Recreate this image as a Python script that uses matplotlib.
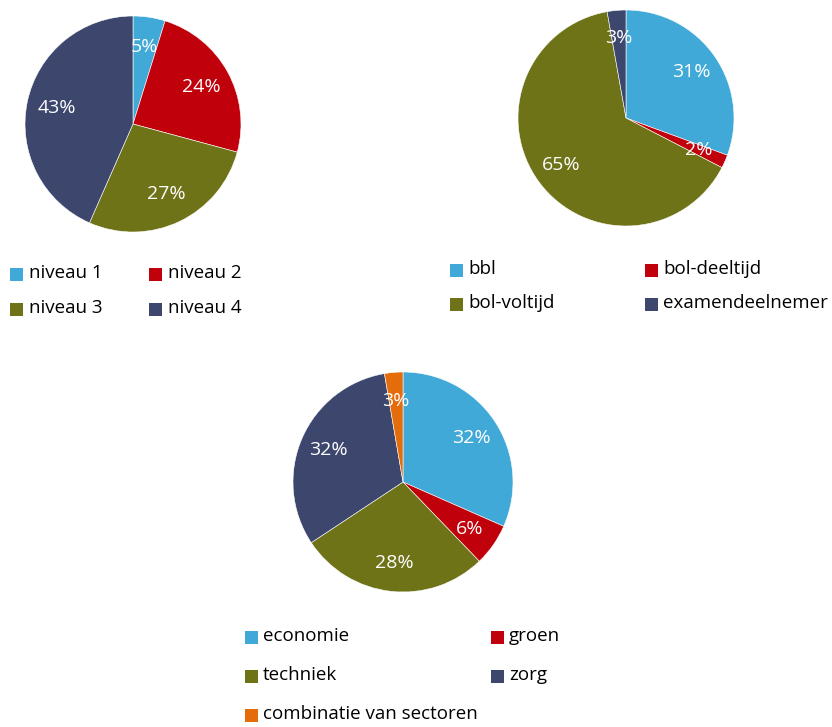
import matplotlib
matplotlib.use("Agg")
import matplotlib.pyplot as plt
from matplotlib.patches import Rectangle

W, H = 832, 727

# kleuren zoals in de bron
blauw = "#41A9D7"
rood = "#C0000B"
olijf = "#6E7318"
navy = "#3D476E"
oranje = "#E46C0A"

# grafiek 1: niveau
niveau_labels = ["niveau 1", "niveau 2", "niveau 3", "niveau 4"]
niveau_waarden = [4.8, 24.4, 27.4, 43.4]
niveau_kleuren = [blauw, rood, olijf, navy]

# grafiek 2: leerweg
leerweg_labels = ["bbl", "bol-deeltijd", "bol-voltijd", "examendeelnemer"]
leerweg_waarden = [30.6, 2.0, 64.6, 2.8]
leerweg_kleuren = [blauw, rood, olijf, navy]

# grafiek 3: sector
sector_labels = ["economie", "groen", "techniek", "zorg", "combinatie van sectoren"]
sector_waarden = [31.6, 6.2, 27.9, 31.6, 2.7]
sector_kleuren = [blauw, rood, olijf, navy, oranje]

plt.rcParams["font.family"] = ["Open Sans", "DejaVu Sans"]

fig = plt.figure(figsize=(W / 100, H / 100), dpi=100)


def taart(cx, cy, r, waarden, kleuren, pctdist):
    """taart tekenen met middelpunt en straal in pixels"""
    ax = fig.add_axes([(cx - r) / W, 1 - (cy + r) / H, 2 * r / W, 2 * r / H])
    wedges, teksten, pcts = ax.pie(waarden, colors=kleuren, startangle=90,
                                   counterclock=False, autopct="%.0f%%",
                                   pctdistance=pctdist,
                                   wedgeprops=dict(edgecolor="white", linewidth=0.4),
                                   textprops=dict(color="white", fontsize=14))
    ax.set_xlim(-1, 1)
    ax.set_ylim(-1, 1)
    ax.set_aspect("equal")
    ax.axis("off")
    return ax


def legenda(items, kleuren, kolom_x, rij_y, tekst_dx=19):
    # handmatige legenda, posities in pixels
    n_kol = len(kolom_x)
    for i, (lab, kl) in enumerate(zip(items, kleuren)):
        x = kolom_x[i % n_kol]
        y = rij_y[i // n_kol]
        fig.patches.append(Rectangle((x / W, 1 - (y + 7) / H), 13 / W, 13 / H,
                                     transform=fig.transFigure, facecolor=kl,
                                     edgecolor="none"))
        fig.text((x + tekst_dx) / W, 1 - (y - 1) / H, lab, fontsize=13.5, color="black",
                 va="center", ha="left")


taart(133, 124, 108, niveau_waarden, niveau_kleuren, 0.72)
legenda(niveau_labels, niveau_kleuren, [10, 149], [274, 309])

taart(626, 118, 108, leerweg_waarden, leerweg_kleuren, 0.74)
legenda(leerweg_labels, leerweg_kleuren, [450, 645], [270, 304], tekst_dx=18)

taart(403, 482, 110, sector_waarden, sector_kleuren, 0.74)
legenda(sector_labels, sector_kleuren, [245, 491], [637, 676, 715], tekst_dx=18)

fig.savefig("out.png", dpi=100, facecolor="white")
